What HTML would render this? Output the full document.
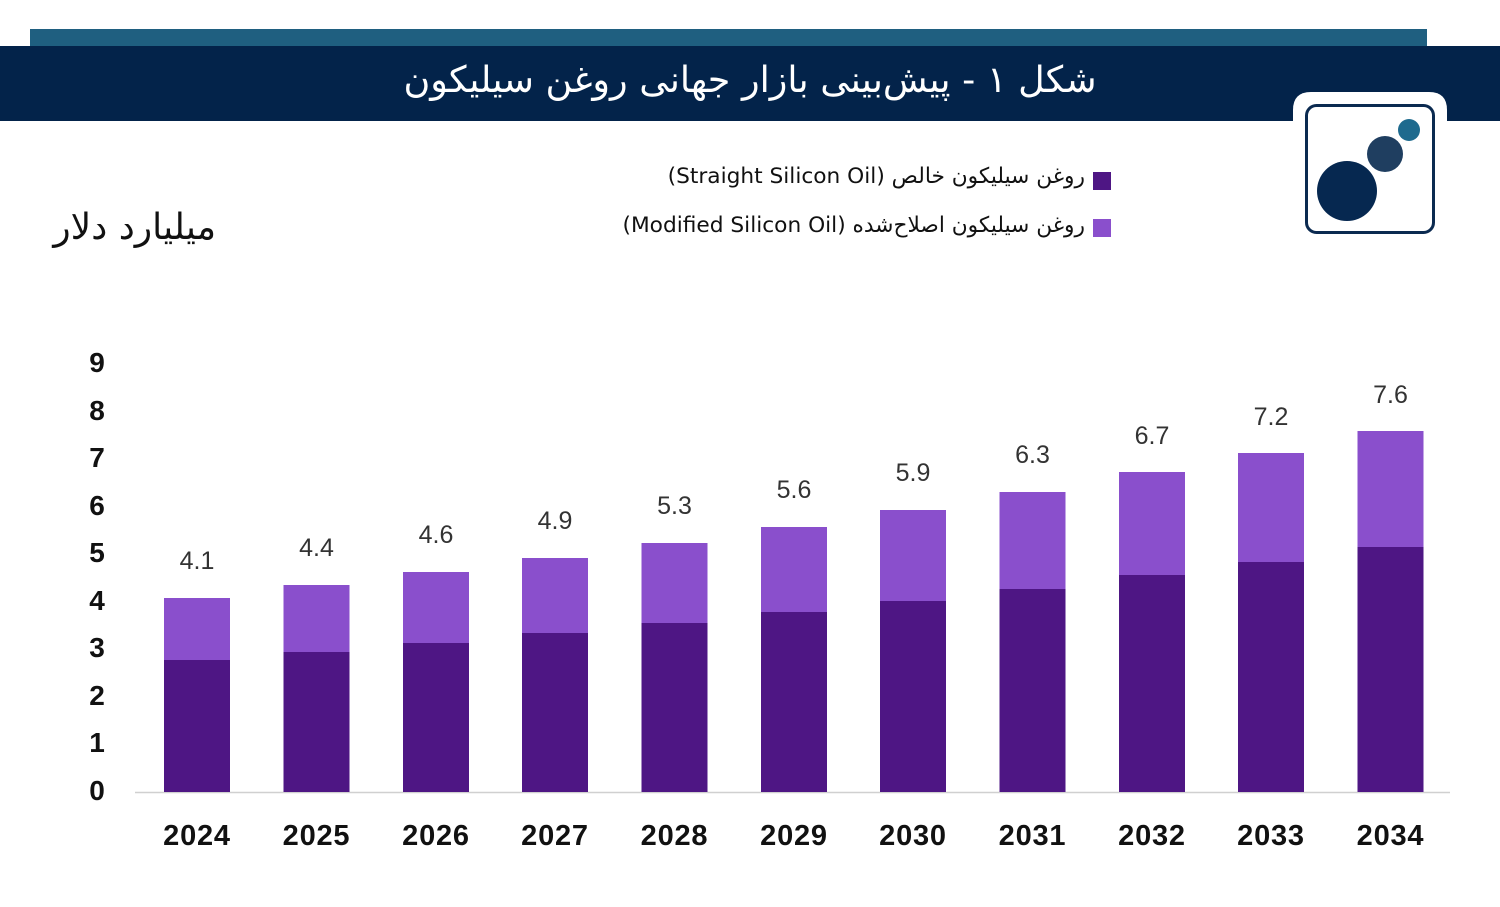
<!DOCTYPE html>
<html>
<head>
<meta charset="utf-8">
<style>
  html,body{margin:0;padding:0;background:#fff;}
  body{width:1500px;height:907px;position:relative;overflow:hidden;}
  .ar{position:absolute;font-family:"DejaVu Sans","Liberation Sans",sans-serif;white-space:nowrap;direction:rtl;}
  svg{position:absolute;left:0;top:0;}
  .title{left:0;width:1500px;top:57px;text-align:center;color:#fff;font-size:36.5px;line-height:46px;}
  .ylab{left:20px;width:196px;top:205px;text-align:right;color:#111;font-size:36px;line-height:46px;}
  .leg{right:415px;text-align:right;color:#111;font-size:21.7px;line-height:28px;}
</style>
</head>
<body>
<svg width="1500" height="907" viewBox="0 0 1500 907" xmlns="http://www.w3.org/2000/svg">
  <rect x="30" y="29" width="1397" height="17" fill="#1f5f80"/>
  <rect x="0" y="46" width="1500" height="75" fill="#03234a"/>
  <path d="M1293,240 L1293,110 Q1293,92 1311,92 L1429,92 Q1447,92 1447,110 L1447,240 Z" fill="#fff"/>
  <rect x="1306.5" y="105.5" width="127" height="127" rx="10" ry="10" fill="#fff" stroke="#0b2a50" stroke-width="3"/>
  <circle cx="1347" cy="191" r="30" fill="#062850"/>
  <circle cx="1385" cy="154" r="18" fill="#1f3e60"/>
  <circle cx="1409" cy="130" r="11" fill="#1e6a8e"/>
  <rect x="1093" y="172" width="18" height="18" fill="#4e1684"/>
  <rect x="1093" y="219" width="18" height="18" fill="#8a4fcc"/>
  <line x1="135" y1="792.5" x2="1450" y2="792.5" stroke="#d0d0d0" stroke-width="1.5"/>
  <g font-family="Liberation Sans, sans-serif" font-weight="bold" font-size="28" fill="#111" text-anchor="middle">
    <text x="97" y="800">0</text>
    <text x="97" y="752">1</text>
    <text x="97" y="705">2</text>
    <text x="97" y="657">3</text>
    <text x="97" y="610">4</text>
    <text x="97" y="562">5</text>
    <text x="97" y="515">6</text>
    <text x="97" y="467">7</text>
    <text x="97" y="420">8</text>
    <text x="97" y="372">9</text>
  </g>
  <g fill="#8a4fcc">
    <rect x="164" y="598" width="66" height="194"/>
    <rect x="283.5" y="585" width="66" height="207"/>
    <rect x="403" y="572" width="66" height="220"/>
    <rect x="522" y="558" width="66" height="234"/>
    <rect x="641.5" y="543" width="66" height="249"/>
    <rect x="761" y="527" width="66" height="265"/>
    <rect x="880" y="510" width="66" height="282"/>
    <rect x="999.5" y="492" width="66" height="300"/>
    <rect x="1119" y="472" width="66" height="320"/>
    <rect x="1238" y="453" width="66" height="339"/>
    <rect x="1357.5" y="431" width="66" height="361"/>
  </g>
  <g fill="#4e1684">
    <rect x="164" y="660" width="66" height="132"/>
    <rect x="283.5" y="652" width="66" height="140"/>
    <rect x="403" y="643" width="66" height="149"/>
    <rect x="522" y="633" width="66" height="159"/>
    <rect x="641.5" y="623" width="66" height="169"/>
    <rect x="761" y="612" width="66" height="180"/>
    <rect x="880" y="601" width="66" height="191"/>
    <rect x="999.5" y="589" width="66" height="203"/>
    <rect x="1119" y="575" width="66" height="217"/>
    <rect x="1238" y="562" width="66" height="230"/>
    <rect x="1357.5" y="547" width="66" height="245"/>
  </g>
  <g font-family="Liberation Sans, sans-serif" font-size="25" fill="#333" text-anchor="middle">
    <text x="197" y="569">4.1</text>
    <text x="316.5" y="556">4.4</text>
    <text x="436" y="543">4.6</text>
    <text x="555" y="529">4.9</text>
    <text x="674.5" y="514">5.3</text>
    <text x="794" y="498">5.6</text>
    <text x="913" y="481">5.9</text>
    <text x="1032.5" y="463">6.3</text>
    <text x="1152" y="444">6.7</text>
    <text x="1271" y="425">7.2</text>
    <text x="1390.5" y="403">7.6</text>
  </g>
  <g font-family="Liberation Sans, sans-serif" font-weight="bold" font-size="29" letter-spacing="0.8" fill="#111" text-anchor="middle">
    <text x="197" y="845">2024</text>
    <text x="316.5" y="845">2025</text>
    <text x="436" y="845">2026</text>
    <text x="555" y="845">2027</text>
    <text x="674.5" y="845">2028</text>
    <text x="794" y="845">2029</text>
    <text x="913" y="845">2030</text>
    <text x="1032.5" y="845">2031</text>
    <text x="1152" y="845">2032</text>
    <text x="1271" y="845">2033</text>
    <text x="1390.5" y="845">2034</text>
  </g>
</svg>
<div class="ar title">شکل ۱ - پیش‌بینی بازار جهانی روغن سیلیکون</div>
<div class="ar ylab">میلیارد دلار</div>
<div class="ar leg" style="top:163px;">روغن سیلیکون خالص (Straight Silicon Oil)</div>
<div class="ar leg" style="top:212px;">روغن سیلیکون اصلاح‌شده (Modified Silicon Oil)</div>
</body>
</html>
